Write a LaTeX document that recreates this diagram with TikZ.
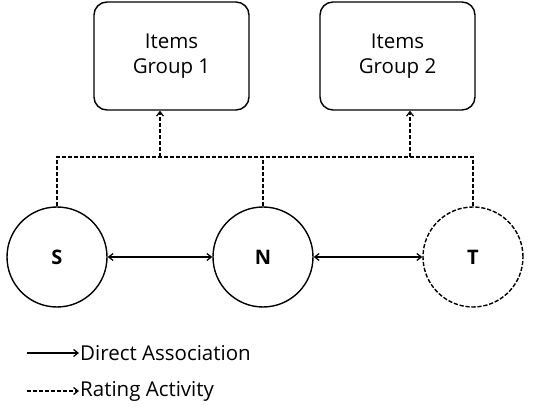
\documentclass[tikz,border=0pt]{standalone}
\usepackage{fontspec}
\setmainfont{Open Sans}
\usetikzlibrary{arrows.meta}
\begin{document}
\begin{tikzpicture}[x=1pt,y=1pt,
  every node/.style={font=\fontsize{20.5}{25}\selectfont},
  itembox/.style={draw, line width=1.4pt, rounded corners=13pt, minimum width=155pt, minimum height=108pt, align=center, inner sep=0pt},
  actor/.style={draw, circle, line width=1.4pt, minimum size=100pt, inner sep=0pt, font=\fontsize{20}{24}\selectfont\bfseries},
  barb/.tip={Straight Barb[length=4.5pt,width=7pt,line width=1.2pt]},
  assoc/.style={line width=1.3pt, {barb}-{barb}},
  rate/.style={line width=1.4pt, dash pattern=on 4.2pt off 1.8pt},
  tip/.style={-{barb}}
]
\useasboundingbox (0,0) rectangle (551,412);
\node[itembox] (g1) at (171.5,356) {Items\\Group 1};
\node[itembox] (g2) at (397.5,356) {Items\\Group 2};
\node[actor] (s) at (57,155) {S};
\node[actor] (n) at (263,155) {N};
\node[actor, dash pattern=on 4.2pt off 1.8pt] (t) at (473,155) {T};
\coordinate (hl) at (57,255);
\coordinate (hr) at (473,255);
\coordinate (a1) at (160,255);
\coordinate (a2) at (410,255);
\draw[rate] (s.north) -- (hl) -- (hr) -- (t.north);
\draw[rate] (n.north) -- (n.north |- hl);
\draw[rate, tip] (a1) -- (a1 |- g1.south);
\draw[rate, tip] (a2) -- (a2 |- g2.south);
\draw[assoc] (s.east) -- (n.west);
\draw[assoc] (n.east) -- (t.west);
% legend
\coordinate (l1a) at (27,59);
\coordinate (l2a) at (27,21);
\node[anchor=west, inner sep=1pt] (l1) at (79,59) {Direct Association};
\node[anchor=west, inner sep=1pt] (l2) at (79,21) {Rating Activity};
\draw[line width=1.3pt, tip] (l1a) -- (l1.west);
\draw[rate, tip] (l2a) -- (l2.west);
\end{tikzpicture}
\end{document}
